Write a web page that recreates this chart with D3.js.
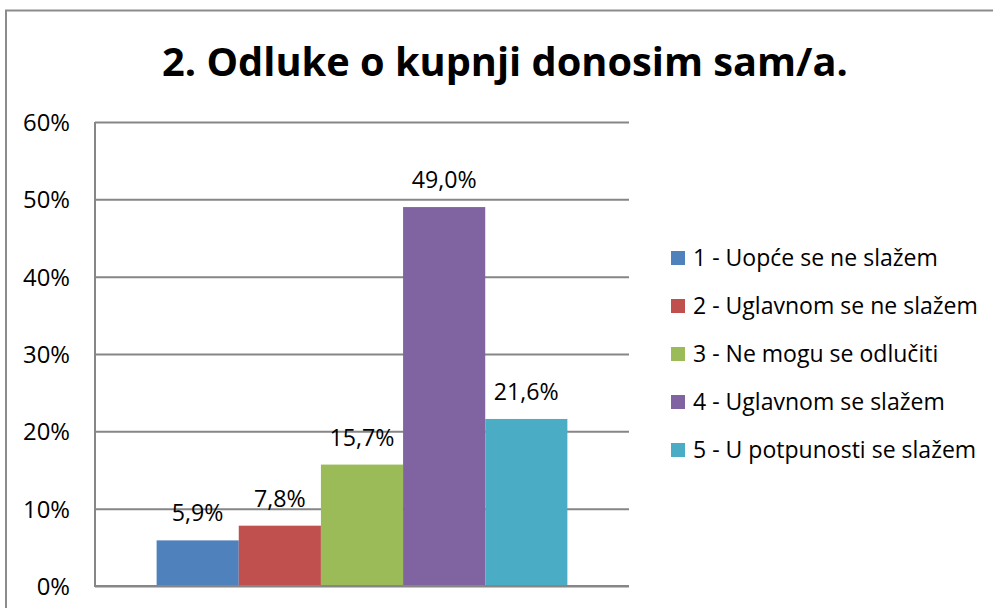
<!DOCTYPE html>
<html><head><meta charset="utf-8">
<script src="https://cdn.jsdelivr.net/npm/d3@7"></script>
<style>html,body{margin:0;padding:0;background:#fff;overflow:hidden}</style>
</head><body>
<svg id="c" width="993" height="608"></svg>
<script>
const title = "2. Odluke o kupnji donosim sam/a.";
const categories = ["1 - Uopće se ne slažem","2 - Uglavnom se ne slažem","3 - Ne mogu se odlučiti","4 - Uglavnom se slažem","5 - U potpunosti se slažem"];
const values = [5.9, 7.8, 15.7, 49.0, 21.6];
const colors = ["#4F81BD","#C0504D","#9BBB59","#8064A2","#4BACC6"];
const yTicks = [0,10,20,30,40,50,60];

const FONT = "'Open Sans', 'Liberation Sans', sans-serif";
const svg = d3.select("#c");
svg.append("rect").attr("width",993).attr("height",608).attr("fill","#fff");
svg.append("rect").attr("x",6).attr("y",10.5).attr("width",1100).attr("height",800)
  .attr("fill","none").attr("stroke","#8c8c8c").attr("stroke-width",2);

const plot = {l:95, r:629, t:122, b:586};
const y = d3.scaleLinear().domain([0,60]).range([plot.b, plot.t]);
const x0 = d3.scaleBand().domain(["g"]).range([plot.l, plot.r]).paddingInner(0).paddingOuter(0.15);
const x1 = d3.scaleBand().domain(categories).range([x0("g"), x0("g")+x0.bandwidth()]).padding(0);

function fitText(sel, target){
  const n = sel.node(); let fs = parseFloat(sel.attr("font-size"));
  const w = n.getComputedTextLength();
  sel.attr("font-size", fs*target/w);
}

const t = svg.append("text").attr("x",505).attr("y",76).attr("text-anchor","middle")
  .attr("font-family",FONT).attr("font-weight","bold").attr("font-size",44).attr("fill","#000").text(title);
fitText(t, 686);

const yAxis = d3.axisLeft(y).tickValues(yTicks).tickSize(-(plot.r-plot.l)).tickFormat(d=>d+"%").tickPadding(25);
const ga = svg.append("g").attr("transform",`translate(${plot.l},0)`).call(yAxis);
ga.select(".domain").remove();
ga.selectAll(".tick line").attr("stroke","#868686").attr("stroke-width",2);
const tt = ga.selectAll(".tick text").attr("font-family",FONT).attr("font-size",20).attr("fill","#000").attr("dy","0.35em");
const tw = tt.filter(d=>d===60).node().getComputedTextLength();
tt.attr("font-size", 20*47/tw);
svg.append("line").attr("x1",plot.l).attr("x2",plot.l).attr("y1",plot.t).attr("y2",plot.b+1)
  .attr("stroke","#868686").attr("stroke-width",2);

svg.selectAll(".bar").data(categories).join("rect").attr("class","bar")
  .attr("x",d=>x1(d)).attr("width",x1.bandwidth())
  .attr("y",(d,i)=>y(values[i])).attr("height",(d,i)=>plot.b-y(values[i]))
  .attr("fill",(d,i)=>colors[i]);
const lbl = svg.selectAll(".lbl").data(categories).join("text").attr("class","lbl")
  .attr("x",d=>x1(d)+x1.bandwidth()/2).attr("y",(d,i)=>y(values[i])-19)
  .attr("text-anchor","middle").attr("font-family",FONT).attr("font-size",20).attr("fill","#000")
  .text((d,i)=>values[i].toFixed(1).replace(".",",")+"%");
const lw = lbl.nodes()[3].getComputedTextLength();
lbl.attr("font-size", 20*65/lw);

svg.append("line").attr("x1",plot.l).attr("x2",plot.r).attr("y1",plot.b).attr("y2",plot.b)
  .attr("stroke","#868686").attr("stroke-width",2);

const lg = svg.append("g");
const rows = [258,306,354,402,450];
categories.forEach((c,i)=>{
  lg.append("rect").attr("x",671).attr("y",rows[i]-7).attr("width",14).attr("height",14).attr("fill",colors[i]);
  lg.append("text").attr("x",693).attr("y",rows[i]).attr("dy","0.35em").attr("font-family",FONT)
    .attr("font-size",20).attr("fill","#000").attr("class","lt").text(c);
});
const lts = lg.selectAll(".lt");
const w2 = lts.nodes()[1].getComputedTextLength();
lts.attr("font-size", 20*285/w2);
</script>
</body></html>
